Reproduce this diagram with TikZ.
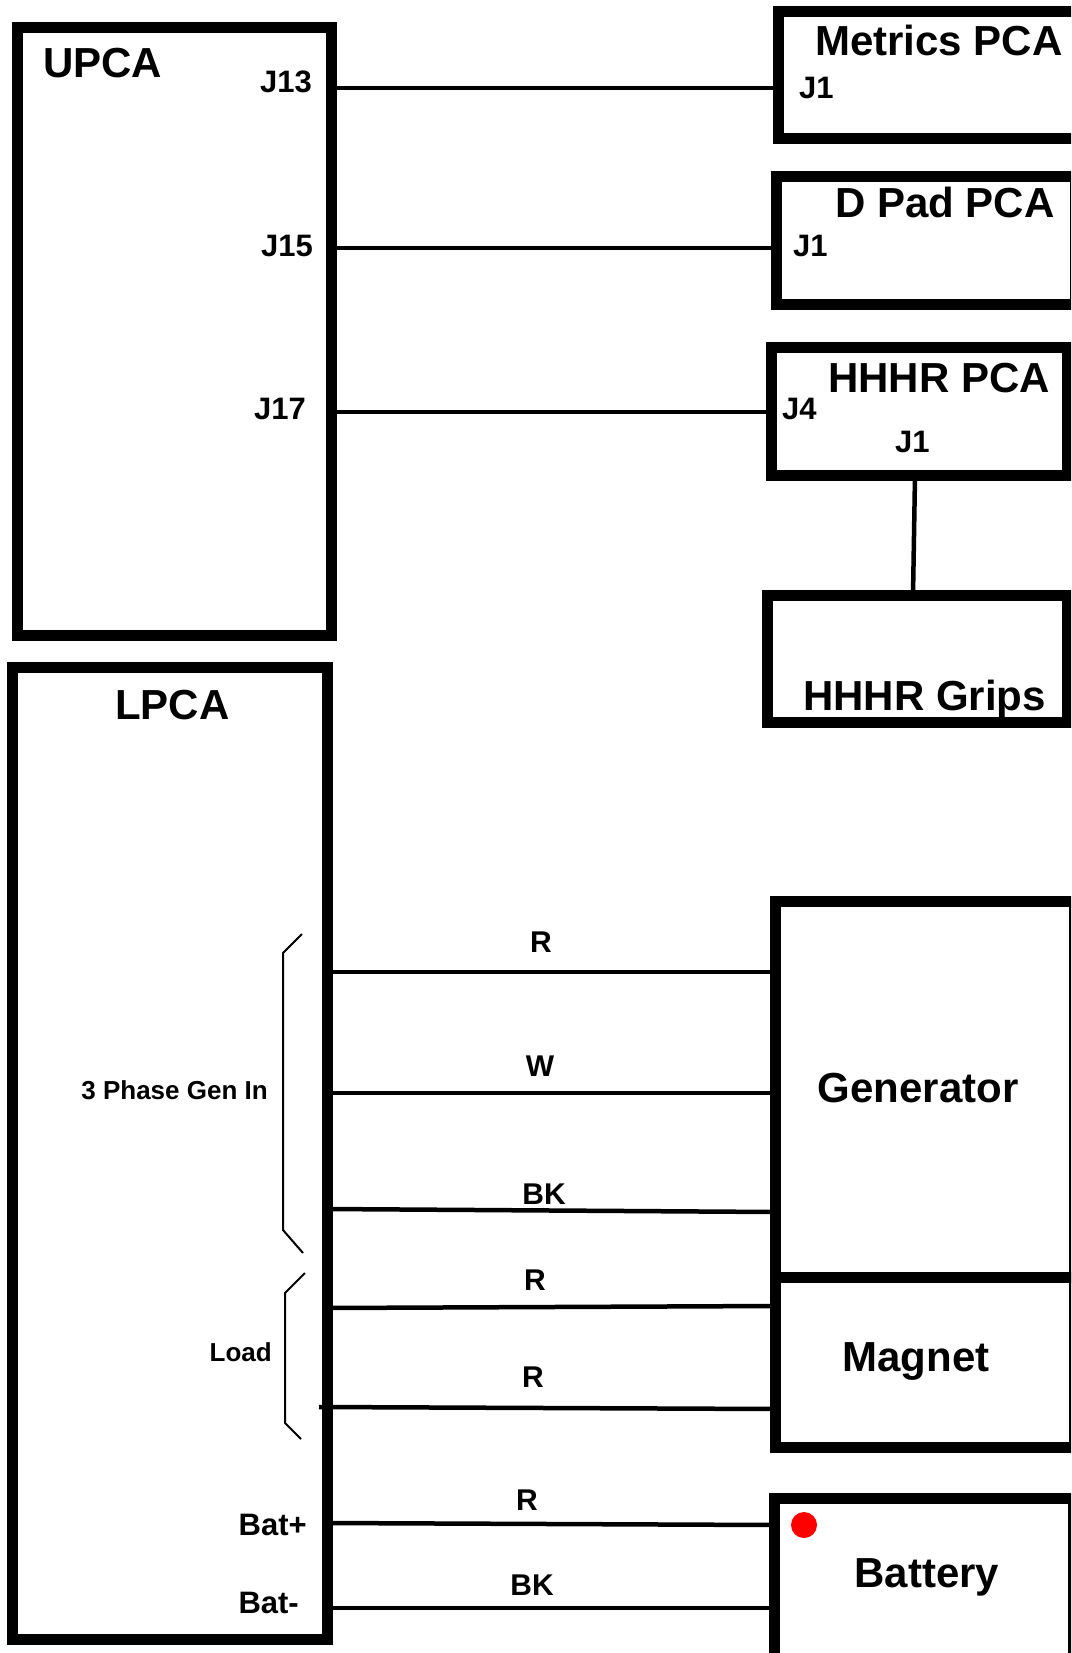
\documentclass[tikz,border=0pt]{standalone}
\usepackage{fontspec}
\setmainfont{Liberation Sans}
\usetikzlibrary{positioning}
\newcommand{\sz}[1]{\fontsize{#1}{#1}\selectfont\bfseries}

\begin{document}
\begin{tikzpicture}[
  x=1pt,y=-1pt,
  blk/.style={draw, line width=11pt, inner sep=0pt, outer sep=0pt},
  wire/.style={line width=4.5pt},
  brace/.style={line width=2pt},
  title/.style={font=\sz{42}, inner sep=0pt, anchor=base west},
  port/.style={font=\sz{31}, inner sep=0pt},
  tag/.style={font=\sz{26}, inner sep=0pt},
  wlbl/.style={font=\sz{30}, inner sep=0pt, anchor=base}
]

\useasboundingbox (0,0) rectangle (1071,1653);
\clip (0,0) rectangle (1071,1653);

% boards
\node[blk, minimum width=314pt, minimum height=608pt] (upca) at (174.5,331.5) {};
\node[blk, minimum width=315pt, minimum height=972pt] (lpca) at (169.5,1153.5) {};

\node[blk, minimum width=301.5pt, minimum height=127.5pt] (met) at (929.25,75.25) {};
\node[blk, minimum width=298.5pt, minimum height=127pt] (dpad) at (925.75,240.5) {};
\node[blk, minimum width=295.5pt, minimum height=128pt] (hpca) at (919.25,411.5) {};
\node[blk, minimum width=300pt, minimum height=127pt] (grips) at (917,659) {};
\node[blk, minimum width=298.5pt, minimum height=376.5pt] (gen) at (924.75,1089.25) {};
\node[blk, minimum width=298.5pt, minimum height=169.5pt] (mag) at (924.75,1362.25) {};
\node[blk, minimum width=298.5pt, minimum height=201.5pt] (bat) at (923.75,1599.25) {};

% titles
\node[title] (tupca) at (43,78) {UPCA};
\node[title] (tlpca) at (115,719) {LPCA};
\node[title] (tmet) at (815,56) {Metrics PCA};
\node[title] (tdpad) at (835,218) {D Pad PCA};
\node[title] (thpca) at (828,392) {HHHR PCA};
\node[title] (tgrips) at (803,710) {HHHR Grips};
\node[title, anchor=base] (tgen) at (918,1102) {Generator};
\node[title, anchor=base] (tmag) at (916,1371) {Magnet};
\node[title, anchor=base] (tbat) at (927,1587) {Battery};
\node[circle, fill=red, minimum size=26pt, inner sep=0pt] (led) at (804,1525) {};

% connector names
\node[port, anchor=base east] (j13) at (312,93) {J13};
\node[port, anchor=base east] (j15) at (313,256) {J15};
\node[port, anchor=base east] (j17) at (306,419) {J17};
\node[port, anchor=base west] (metj1) at (799,99) {J1};
\node[port, anchor=base west] (dpadj1) at (793,256) {J1};
\node[port, anchor=base west] (hj4) at (782,419) {J4};
\node[port, anchor=base west] (hj1) at (895,452) {J1};
\node[port, anchor=base east] (batp) at (307,1535) {Bat+};
\node[port, anchor=base east] (batn) at (299,1613) {Bat-};
\node[tag, anchor=base east] (gin) at (268,1099) {3 Phase Gen In};
\node[tag, anchor=base east] (load) at (272,1361) {Load};

% cables
\draw[wire] (upca.east |- 0,88) -- (met.west |- 0,88);
\draw[wire] (upca.east |- 0,248) -- (dpad.west |- 0,248);
\draw[wire] (upca.east |- 0,412) -- (hpca.west |- 0,412);
\draw[wire] (hpca.south -| 915,0) -- (grips.north -| 913,0);

\draw[wire] (lpca.east |- 0,972) -- (gen.west |- 0,972);
\draw[wire] (lpca.east |- 0,1093) -- (gen.west |- 0,1093);
\draw[wire] (lpca.east |- 0,1209) -- (gen.west |- 0,1212);
\draw[wire] (lpca.east |- 0,1308) -- (mag.west |- 0,1306);
\draw[wire] ([xshift=-8pt]lpca.east |- 0,1407) -- (mag.west |- 0,1409);
\draw[wire] (lpca.east |- 0,1523) -- (bat.west |- 0,1525);
\draw[wire] (lpca.east |- 0,1608) -- (bat.west |- 0,1608);

% wire colours
\node[wlbl] (c1) at (541,952) {R};
\node[wlbl] (c2) at (540,1076) {W};
\node[wlbl] (c3) at (544,1204) {BK};
\node[wlbl] (c4) at (535,1290) {R};
\node[wlbl] (c5) at (533,1387) {R};
\node[wlbl] (c6) at (527,1510) {R};
\node[wlbl] (c7) at (532,1595) {BK};

% brackets
\draw[brace] (302,934) -- (283,953) -- (283,1230) -- (303,1253);
\draw[brace] (305,1273) -- (285,1293) -- (285,1423) -- (301,1439);

\end{tikzpicture}
\end{document}
